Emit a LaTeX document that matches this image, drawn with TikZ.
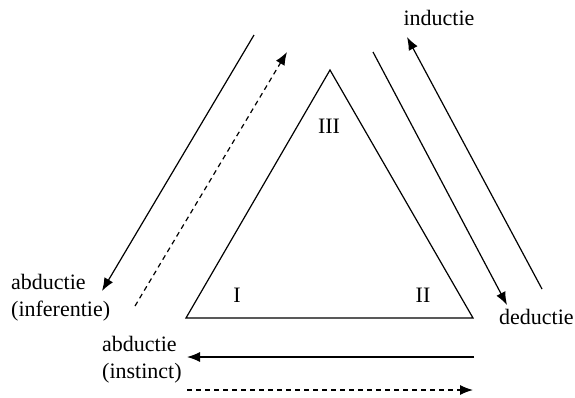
\documentclass[tikz,border=0pt]{standalone}
\usepackage{fontspec}
\setmainfont{Liberation Serif}
\usetikzlibrary{arrows.meta}
\begin{document}
\begin{tikzpicture}[x=1pt,y=-1pt,
  lbl/.style={font=\fontsize{22}{27}\selectfont, inner sep=0pt},
  edge/.style={line width=1.2pt},
  arr/.style={line width=1.2pt, -{Latex[length=13pt,width=10pt]}},
  darr/.style={arr, dash pattern=on 5pt off 4pt}]
\useasboundingbox (0,0) rectangle (575,397);
% triangle
\coordinate (A) at (330,70);
\coordinate (B) at (186,318);
\coordinate (C) at (473,318);
\draw[edge, line join=miter] (A) -- (B) -- (C) -- cycle;
\node[lbl, anchor=base] (t3) at (329,133) {III};
\node[lbl, anchor=base] (t1) at (237,302) {I};
\node[lbl, anchor=base] (t2) at (423,302) {II};
% labels
\node[lbl, anchor=base] (ind) at (439,25) {inductie};
\node[lbl, anchor=base west] (ded) at (499,324) {deductie};
\node[lbl, anchor=west, align=left] (abi) at (11,298) {abductie\\(inferentie)};
\node[lbl, anchor=west, align=left] (abs) at (102,360) {abductie\\(instinct)};
% left arrows
\coordinate (l1s) at (254,35);
\coordinate (l1e) at (102,291);
\draw[arr] (l1s) -- (l1e);
\coordinate (l2s) at (135,306);
\coordinate (l2e) at (287,52);
\draw[darr] (l2s) -- (l2e);
% right arrows
\coordinate (r1s) at (373,52);
\coordinate (r1e) at (507,305);
\draw[arr] (r1s) -- (r1e);
\coordinate (r2s) at (542,289);
\coordinate (r2e) at (407,37);
\draw[arr] (r2s) -- (r2e);
% bottom arrows
\coordinate (b1s) at (474,357);
\coordinate (b1e) at (187,357);
\draw[arr] (b1s) -- (b1e);
\coordinate (b2s) at (187,390);
\coordinate (b2e) at (473,390);
\draw[darr] (b2s) -- (b2e);
\end{tikzpicture}
\end{document}
